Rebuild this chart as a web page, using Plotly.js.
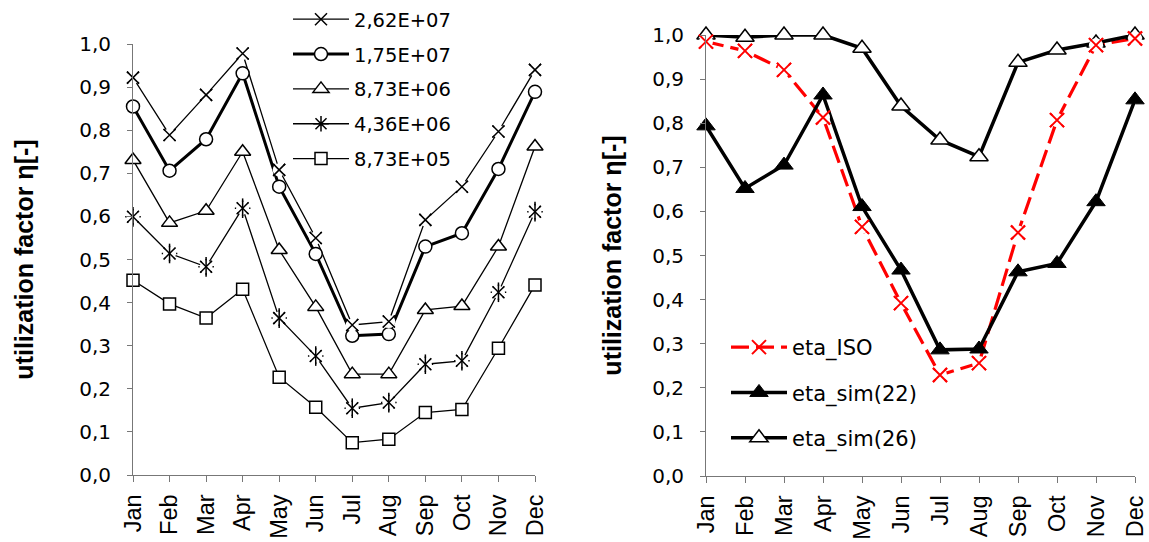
<!DOCTYPE html>
<html>
<head>
<meta charset="utf-8">
<script src="https://cdn.plot.ly/plotly-3.0.1.min.js"></script>
<style>html,body{margin:0;padding:0;background:#fff;}#chart{width:1149px;height:542px;}</style>
</head>
<body>
<div id="chart"></div>
<script>
const months = ["Jan","Feb","Mar","Apr","May","Jun","Jul","Aug","Sep","Oct","Nov","Dec"];
const yTickVals = [0,0.1,0.2,0.3,0.4,0.5,0.6,0.7,0.8,0.9,1.0];
const yTickText = ["0,0","0,1","0,2","0,3","0,4","0,5","0,6","0,7","0,8","0,9","1,0"];

// Left chart series
const leftNames = ["2,62E+07","1,75E+07","8,73E+06","4,36E+06","8,73E+05"];
const s262e7 = [0.922,0.789,0.882,0.978,0.708,0.550,0.348,0.356,0.592,0.669,0.797,0.940];
const s175e7 = [0.855,0.706,0.779,0.932,0.669,0.513,0.323,0.327,0.530,0.561,0.710,0.889];
const s873e6 = [0.731,0.585,0.613,0.750,0.522,0.390,0.234,0.234,0.383,0.392,0.530,0.762];
const s436e6 = [0.599,0.514,0.483,0.619,0.364,0.276,0.155,0.168,0.257,0.265,0.424,0.611];
const s873e5 = [0.452,0.397,0.364,0.431,0.227,0.157,0.075,0.083,0.145,0.152,0.294,0.441];

// Right chart series
const rightNames = ["eta_ISO","eta_sim(22)","eta_sim(26)"];
const etaISO = [0.985,0.964,0.921,0.813,0.565,0.392,0.229,0.256,0.552,0.807,0.977,0.992];
const etaSim22 = [0.794,0.652,0.705,0.864,0.611,0.467,0.286,0.288,0.463,0.482,0.622,0.853];
const etaSim26 = [1.000,0.995,1.000,1.000,0.970,0.839,0.762,0.724,0.938,0.966,0.982,1.000];

const HFONT = "DejaVu Sans, sans-serif";
const VFONT = "Liberation Sans, Arial, sans-serif";

function tr(y, name, sym, size, lw, fill, lineColor, dash, xa, ya, leg, grp, mlw) {
  return {
    x: months, y: y, name: name, type: "scatter", mode: "lines+markers",
    xaxis: xa, yaxis: ya, legend: leg, legendgroup: grp, cliponaxis: false,
    line: {color: lineColor, width: lw, dash: dash || "solid"},
    marker: {symbol: sym, size: size, color: fill, line: {color: lineColor, width: mlw}}
  };
}
// marker-only overlay (white knock-out behind open glyphs, and the glyphs themselves)
function ov(y, sym, size, color, mlw, xa, ya, grp) {
  return {
    x: months, y: y, type: "scatter", mode: "markers", showlegend: false,
    xaxis: xa, yaxis: ya, legendgroup: grp, cliponaxis: false, hoverinfo: "skip",
    marker: {symbol: sym, size: size, color: color, line: {color: color, width: mlw}}
  };
}

const data = [
  tr(s262e7, leftNames[0], "x-thin-open", 12, 1.3, "black", "black", null, "x", "y", "legend", "a", 1.5),
  tr(s175e7, leftNames[1], "circle", 13, 3, "white", "black", null, "x", "y", "legend", "b", 1.5),
  tr(s873e6, leftNames[2], "triangle-up", 14, 1.3, "white", "black", null, "x", "y", "legend", "c", 1.5),
  tr(s436e6, leftNames[3], "asterisk-open", 13, 1.3, "black", "black", null, "x", "y", "legend", "d", 1.5),
  tr(s873e5, leftNames[4], "square", 12, 1.3, "white", "black", null, "x", "y", "legend", "e", 1.5),
  tr(etaISO, rightNames[0], "x-thin-open", 14, 3.2, "red", "red", "18px,7px", "x2", "y2", "legend2", "f", 2),
  tr(etaSim22, rightNames[1], "triangle-up", 16, 3.5, "black", "black", null, "x2", "y2", "legend2", "g", 1),
  tr(etaSim26, rightNames[2], "triangle-up", 16, 3.5, "white", "black", null, "x2", "y2", "legend2", "h", 1.5),
  // knock-outs + glyphs on top
  ov(s262e7, "circle", 13, "white", 0, "x", "y", "a"),
  ov(s262e7, "x-thin-open", 12, "black", 1.5, "x", "y", "a"),
  ov(s436e6, "circle", 13, "white", 0, "x", "y", "d"),
  ov(s436e6, "x-thin-open", 12, "black", 1.5, "x", "y", "d"),
  ov(s436e6, "line-ns-open", 14, "black", 1.5, "x", "y", "d"),
  ov(etaISO, "circle", 14, "white", 0, "x2", "y2", "f"),
  ov(etaISO, "x-thin-open", 14, "red", 2, "x2", "y2", "f")
];

const W = 1149, H = 542;
function xaxisDef(x0, x1, anchor) {
  return {
    domain: [x0/W, x1/W], anchor: anchor, type: "category", range: [0, 11],
    tickangle: -90, ticks: "outside", ticklen: 6, tickcolor: "#777", tickwidth: 1,
    ticklabelstandoff: 3,
    showline: true, linecolor: "#777", linewidth: 1, showgrid: false, zeroline: false,
    tickfont: {family: VFONT, size: 23.5, color: "black"}, automargin: false, fixedrange: true
  };
}
function yaxisDef(ytop, ybot, anchor, standoff) {
  return {
    domain: [(H-ybot)/H, (H-ytop)/H], anchor: anchor, range: [0, 1],
    tickvals: yTickVals, ticktext: yTickText, ticks: "outside", ticklen: 5, tickcolor: "#777",
    ticklabelstandoff: 12,
    showline: true, linecolor: "#777", linewidth: 1, showgrid: false, zeroline: false,
    tickfont: {family: HFONT, size: 20, color: "black"}, automargin: false, fixedrange: true,
    title: {text: "utilization factor η[-]", font: {family: VFONT, size: 25, color: "black", weight: "bold"}, standoff: standoff}
  };
}

const layout = {
  width: W, height: H, margin: {l: 0, r: 0, t: 0, b: 0},
  paper_bgcolor: "white", plot_bgcolor: "white", showlegend: true,
  font: {family: HFONT, size: 20, color: "black"},
  xaxis: xaxisDef(133, 535, "y"),
  yaxis: yaxisDef(44, 475, "x", 38),
  xaxis2: xaxisDef(706, 1135, "y2"),
  yaxis2: yaxisDef(35, 476, "x2", 23),
  legend: {
    x: 288/W, y: 1.0, xanchor: "left", yanchor: "top", bgcolor: "rgba(0,0,0,0)",
    font: {family: HFONT, size: 19.5, color: "black"}, itemwidth: 56,
    traceorder: "grouped", tracegroupgap: 6.5, itemclick: false
  },
  legend2: {
    x: 726/W, y: (H-327)/H, xanchor: "left", yanchor: "top", bgcolor: "rgba(0,0,0,0)",
    font: {family: HFONT, size: 21, color: "black"}, itemwidth: 56,
    traceorder: "grouped", tracegroupgap: 15, itemclick: false
  }
};

Plotly.newPlot("chart", data, layout, {displayModeBar: false, staticPlot: true});
</script>
</body>
</html>
